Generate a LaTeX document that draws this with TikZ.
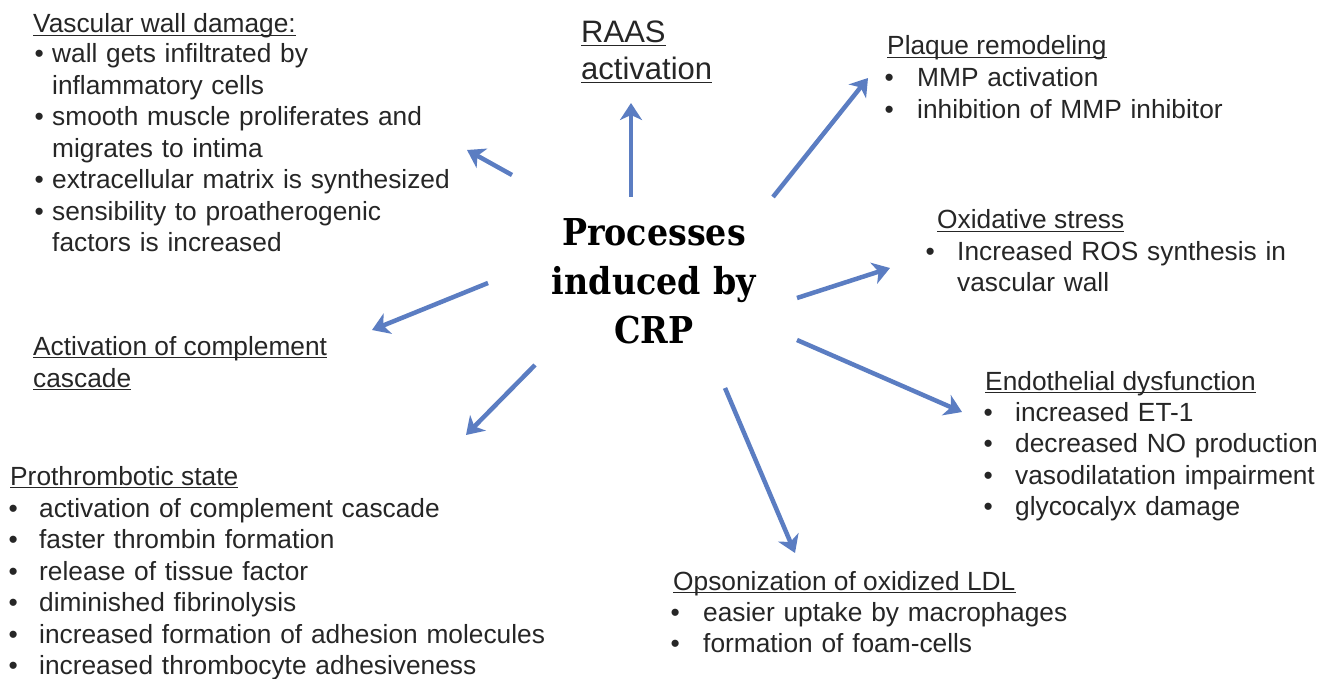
\documentclass[tikz,border=0pt]{standalone}
\usepackage{fontspec}
\setmainfont{Liberation Sans}
\newfontfamily\ctrfont{DejaVu Serif}[FakeStretch=0.9]
\usetikzlibrary{arrows.meta}
\definecolor{txt}{HTML}{262626}
\definecolor{arr}{HTML}{5B7DC2}
\newcommand{\bul}[1]{\makebox[#1pt][l]{•}}
\begin{document}
\begin{tikzpicture}[x=1pt,y=-1pt,
  body/.style={font=\fontsize{26.3}{31.5}\selectfont, text=txt, inner sep=0pt, anchor=base west},
  lst/.style={body, text width=700pt, align=left},
  big/.style={font=\fontsize{31}{37}\selectfont, text=txt, inner sep=0pt, anchor=base west},
  uline/.style={draw=txt, line width=1.3pt},
  conn/.style={draw=arr, line width=4.5pt, -{Stealth[length=17pt,width=22pt,inset=5pt]}}]
\useasboundingbox (0,0) rectangle (1327,679);
\fill[white] (0,0) rectangle (1327,679);

% centre
\node[font=\ctrfont\bfseries\fontsize{37}{49}\selectfont, text width=320pt, align=center, inner sep=0pt, anchor=base] (crp) at (654,245) {Processes\\induced by\\CRP};

% Vascular wall damage
\node[body] (hvas) at (33,33) {Vascular wall damage:};
\node[lst] (lvas) at (34.4,63) {\bul{17.6}wall gets infiltrated by\\
\hspace*{17.6pt}inflammatory cells\\
\bul{17.6}smooth muscle proliferates and\\
\hspace*{17.6pt}migrates to intima\\
\bul{17.6}extracellular matrix is synthesized\\
\bul{17.6}sensibility to proatherogenic\\
\hspace*{17.6pt}factors is increased};

% RAAS
\node[big] (hraas1) at (581,43) {RAAS};
\node[big] (hraas2) at (581,80) {activation};

% Plaque remodeling
\node[body] (hpla) at (887,55) {Plaque remodeling};
\node[lst] (lpla) at (884.4,87) {\bul{32.6}MMP activation\\
\bul{32.6}inhibition of MMP inhibitor};

% Oxidative stress
\node[body] (hoxi) at (937,229) {Oxidative stress};
\node[lst] (loxi) at (925.4,260) {\bul{31.6}Increased ROS synthesis in\\
\hspace*{31.6pt}vascular wall};

% Endothelial dysfunction
\node[body] (hend) at (985,390) {Endothelial dysfunction};
\node[lst] (lend) at (983.4,421) {\bul{31.6}increased ET-1\\
\bul{31.6}decreased NO production\\
\bul{31.6}vasodilatation impairment\\
\bul{31.6}glycocalyx damage};

% Opsonization
\node[body] (hops) at (673,590) {Opsonization of oxidized LDL};
\node[lst] (lops) at (670.4,621) {\bul{32.6}easier uptake by macrophages\\
\bul{32.6}formation of foam-cells};

% Complement
\node[body] (hcom1) at (33,355) {Activation of complement};
\node[body] (hcom2) at (33,387) {cascade};

% Prothrombotic
\node[body] (hpro) at (10,485) {Prothrombotic state};
\node[lst] (lpro) at (8.4,517) {\bul{30.6}activation of complement cascade\\
\bul{30.6}faster thrombin formation\\
\bul{30.6}release of tissue factor\\
\bul{30.6}diminished fibrinolysis\\
\bul{30.6}increased formation of adhesion molecules\\
\bul{30.6}increased thrombocyte adhesiveness};

% underlines
\foreach \h in {hvas,hraas1,hraas2,hpla,hoxi,hend,hops,hcom1,hcom2,hpro}
  \draw[uline] ([yshift=-2.5pt]\h.base west) -- ([yshift=-2.5pt]\h.base east);

% arrows
\coordinate (sU) at (631,197); \coordinate (tU) at (631,103);
\coordinate (sV) at (512,175); \coordinate (tV) at (467,150);
\coordinate (sP) at (773,197); \coordinate (tP) at (868,78);
\coordinate (sO) at (797,298); \coordinate (tO) at (890,268);
\coordinate (sC) at (488,283); \coordinate (tC) at (372,330);
\coordinate (sE) at (797,340); \coordinate (tE) at (962,412);
\coordinate (sT) at (535,365); \coordinate (tT) at (466,435);
\coordinate (sL) at (725,388); \coordinate (tL) at (795,553);
\foreach \s/\t in {sU/tU,sV/tV,sP/tP,sO/tO,sC/tC,sE/tE,sT/tT,sL/tL}
  \draw[conn] (\s) -- (\t);
\end{tikzpicture}
\end{document}
